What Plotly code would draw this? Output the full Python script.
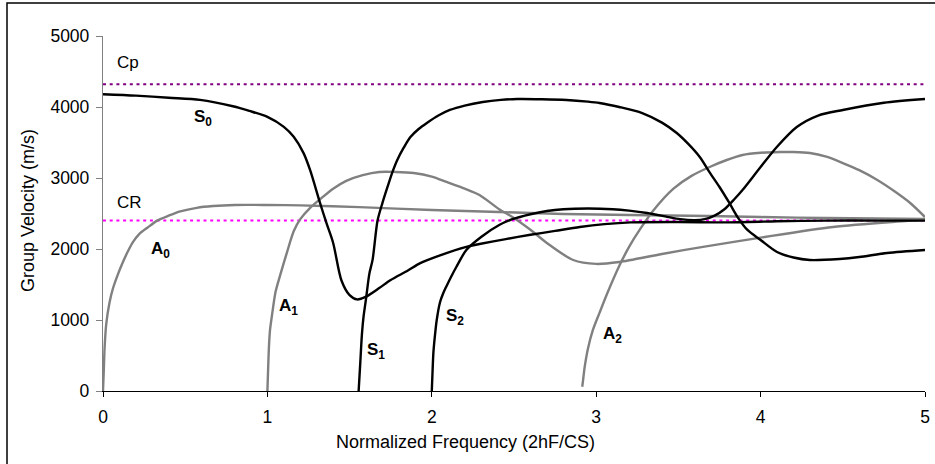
import plotly.graph_objects as go

# Group velocity dispersion curves (Lamb modes) vs normalized frequency
s0_x = [0, 0.2, 0.4, 0.59, 0.79, 0.89, 1.0, 1.1, 1.16, 1.22, 1.26, 1.32, 1.36, 1.40, 1.45, 1.50,
        1.545, 1.60, 1.68, 1.75, 1.85, 1.93, 2.05, 2.21, 2.29, 2.45, 2.60, 2.75, 2.90, 3.05, 3.21,
        3.5, 3.8, 4.1, 4.4, 4.7, 5.0]
s0_y = [4180, 4160, 4130, 4100, 4010, 3945, 3860, 3720, 3580, 3350, 3110, 2650, 2360, 2085, 1560, 1350,
        1290, 1330, 1450, 1563, 1690, 1800, 1910, 2030, 2070, 2140, 2200, 2255, 2310, 2350, 2375,
        2380, 2375, 2390, 2400, 2400, 2400]

s1_x = [1.555, 1.565, 1.575, 1.585, 1.60, 1.62, 1.64, 1.67, 1.70, 1.73, 1.76, 1.79, 1.83, 1.87, 1.92,
        1.97, 2.04, 2.11, 2.2, 2.31, 2.42, 2.52, 2.67, 2.82, 2.95, 3.02, 3.14, 3.28, 3.40, 3.49, 3.56,
        3.63, 3.69, 3.75, 3.81, 3.86, 3.92, 4.0, 4.1, 4.2, 4.30, 4.48, 4.6, 4.77, 5.0]
s1_y = [0, 400, 800, 1050, 1300, 1650, 1850, 2400, 2650, 2870, 3080, 3254, 3430, 3577, 3690,
        3775, 3880, 3958, 4020, 4070, 4100, 4113, 4110, 4099, 4075, 4056, 4000, 3915, 3780, 3634, 3480,
        3296, 3080, 2873, 2648, 2450, 2268, 2127, 1958, 1880, 1845, 1860, 1887, 1944, 1986]

s2_x = [2.0, 2.005, 2.01, 2.02, 2.03, 2.05, 2.07, 2.09, 2.12, 2.15, 2.21, 2.3, 2.41, 2.49, 2.6, 2.7,
        2.80, 2.95, 3.10, 3.2, 3.31, 3.42, 3.51, 3.6, 3.66, 3.72, 3.78, 3.84, 3.89, 4.0, 4.1, 4.22,
        4.35, 4.5, 4.75, 5.0]
s2_y = [0, 300, 550, 800, 1000, 1250, 1380, 1480, 1620, 1750, 1986, 2170, 2338, 2420, 2490, 2535,
        2560, 2570, 2560, 2540, 2507, 2460, 2420, 2405, 2420, 2470, 2560, 2700, 2831, 3155, 3440, 3718,
        3880, 3958, 4060, 4113]

a0_x = [0, 0.005, 0.01, 0.02, 0.04, 0.06, 0.09, 0.12, 0.15, 0.18, 0.22, 0.27, 0.33, 0.40, 0.47,
        0.57, 0.67, 0.8, 1.0, 1.2, 1.56, 2.0, 2.41, 2.8, 3.2, 3.69, 4.0, 4.4, 5.0]
a0_y = [0, 300, 620, 950, 1250, 1440, 1640, 1810, 1960, 2090, 2210, 2300, 2400, 2470, 2530,
        2580, 2605, 2620, 2620, 2615, 2590, 2549, 2521, 2493, 2479, 2465, 2450, 2437, 2423]

a1_x = [1.0, 1.005, 1.01, 1.016, 1.03, 1.05, 1.08, 1.12, 1.16, 1.2, 1.26, 1.32, 1.40, 1.48, 1.58,
        1.68, 1.78, 1.89, 2.0, 2.09, 2.2, 2.29, 2.41, 2.49, 2.6, 2.70, 2.86, 3.0, 3.14, 3.4, 3.65,
        4.0, 4.44, 4.83, 5.0]
a1_y = [0, 350, 650, 860, 1100, 1400, 1650, 1960, 2250, 2420, 2580, 2700, 2850, 2960, 3040,
        3085, 3085, 3070, 3020, 2944, 2850, 2760, 2560, 2450, 2270, 2085, 1845, 1790, 1817, 1930, 2030,
        2160, 2310, 2385, 2410]

a2_x = [2.915, 2.92, 2.93, 2.95, 2.98, 3.02, 3.07, 3.14, 3.2, 3.27, 3.35, 3.47, 3.58, 3.69, 3.79,
        3.89, 4.0, 4.12, 4.2, 4.30, 4.40, 4.50, 4.60, 4.71, 4.81, 4.91, 5.0]
a2_y = [60, 150, 340, 600, 860, 1100, 1390, 1760, 2030, 2290, 2550, 2850, 3030, 3155, 3250,
        3324, 3355, 3366, 3366, 3352, 3300, 3211, 3110, 2972, 2820, 2648, 2450]

# Reference velocities
cp_value = 4320
cr_value = 2400
x_range = [0, 5]
y_ticks = [0, 1000, 2000, 3000, 4000, 5000]
x_ticks = [0, 1, 2, 3, 4, 5]

# Curve labels: (text, x, y)
mode_labels = [
    ("<b>S<sub>0</sub></b>", 0.61, 3850),
    ("<b>A<sub>0</sub></b>", 0.35, 1990),
    ("<b>A<sub>1</sub></b>", 1.13, 1180),
    ("<b>S<sub>1</sub></b>", 1.66, 560),
    ("<b>S<sub>2</sub></b>", 2.14, 1040),
    ("<b>A<sub>2</sub></b>", 3.10, 790),
]
ref_labels = [("Cp", 0.15, 4630), ("CR", 0.16, 2650)]

GRAY = "#808080"
BLACK = "#000000"
FONT = "Liberation Sans, Arial, sans-serif"
CURVE_W = 2.4

fig = go.Figure()

fig.add_trace(go.Scatter(x=x_range, y=[cp_value, cp_value], mode="lines",
                         line=dict(color="#800080", width=2, dash="3px,3.7px"), hoverinfo="skip"))
fig.add_trace(go.Scatter(x=x_range, y=[cr_value, cr_value], mode="lines",
                         line=dict(color="#FF00FF", width=2, dash="3px,3.7px"), hoverinfo="skip"))

for xs, ys in [(a0_x, a0_y), (a1_x, a1_y), (a2_x, a2_y)]:
    fig.add_trace(go.Scatter(x=xs, y=ys, mode="lines",
                             line=dict(color=GRAY, width=CURVE_W, shape="spline", smoothing=0.8)))
for xs, ys in [(s0_x, s0_y), (s1_x, s1_y), (s2_x, s2_y)]:
    fig.add_trace(go.Scatter(x=xs, y=ys, mode="lines",
                             line=dict(color=BLACK, width=CURVE_W, shape="spline", smoothing=0.8)))

annotations = []
for text, x, y in mode_labels:
    annotations.append(dict(x=x, y=y, text=text, showarrow=False,
                            font=dict(family=FONT, size=17, color="#000000")))
for text, x, y in ref_labels:
    annotations.append(dict(x=x, y=y, text=text, showarrow=False,
                            font=dict(family=FONT, size=17, color="#000000")))

W, H = 935, 464
L, R, T, B = 103, 10, 36, 73
pw, ph = W - L - R, H - T - B


def px_to_paper(px, py):
    return (px - L) / pw, (H - B - py) / ph


tx, ty = px_to_paper(28, 211)
annotations.append(dict(x=tx, y=ty, xref="paper", yref="paper", text="Group Velocity (m/s)",
                        textangle=-90, showarrow=False, xanchor="center", yanchor="middle",
                        font=dict(family=FONT, size=18, color="#000000")))
tx, ty = px_to_paper(465, 442)
annotations.append(dict(x=tx, y=ty, xref="paper", yref="paper", text="Normalized Frequency (2hF/CS)",
                        showarrow=False, xanchor="center", yanchor="middle",
                        font=dict(family=FONT, size=18, color="#000000")))

# Outer frame
fx0, fy1 = px_to_paper(7, 3)
fx1, fy0 = px_to_paper(945, 475)
shapes = [dict(type="rect", xref="paper", yref="paper", x0=fx0, x1=fx1, y0=fy0, y1=fy1,
               line=dict(color="#000000", width=1.5), fillcolor="rgba(0,0,0,0)", layer="below")]

fig.update_layout(
    width=W, height=H,
    margin=dict(l=L, r=R, t=T, b=B, pad=0),
    paper_bgcolor="white", plot_bgcolor="white",
    showlegend=False,
    annotations=annotations,
    shapes=shapes,
    font=dict(family=FONT, size=17, color="#000000"),
    xaxis=dict(range=x_range, tickvals=x_ticks, showgrid=False, zeroline=False, automargin=False,
               showline=True, linecolor="#000000", linewidth=1.3,
               ticks="outside", ticklen=5, tickcolor="#000000", tickwidth=1, ticklabelstandoff=5,
               tickfont=dict(family=FONT, size=17.5, color="#000000")),
    yaxis=dict(range=[0, 5000], tickvals=y_ticks, showgrid=False, zeroline=False, automargin=False,
               showline=True, linecolor=GRAY, linewidth=1.3,
               ticks="outside", ticklen=6, tickcolor=GRAY, tickwidth=1, ticklabelstandoff=3,
               tickfont=dict(family=FONT, size=17.5, color="#000000")),
)

fig.write_html("out.html")
